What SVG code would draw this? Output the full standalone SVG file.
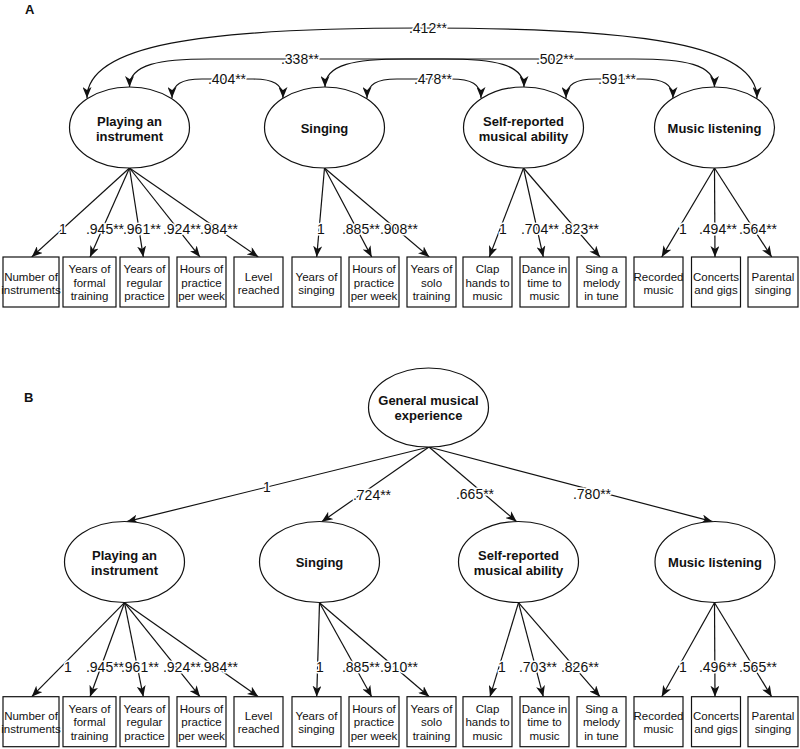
<svg xmlns="http://www.w3.org/2000/svg" width="800" height="749" viewBox="0 0 800 749">
<defs>
<style>
.bg{fill:#fff}
.ell{fill:#fff;stroke:#111;stroke-width:1.2}
.box{fill:#fff;stroke:#111;stroke-width:1.2}
.lat{font-family:"Liberation Sans",Arial,sans-serif;font-size:13px;font-weight:bold;fill:#111;text-anchor:middle}
.obs{font-family:"Liberation Sans",Arial,sans-serif;font-size:11.5px;fill:#111;text-anchor:middle}
.lbl{font-family:"Liberation Sans",Arial,sans-serif;font-size:14px;fill:#111;text-anchor:middle;stroke:#fff;stroke-width:3;paint-order:stroke;stroke-linejoin:round}
.pan{font-family:"Liberation Sans",Arial,sans-serif;font-size:13px;font-weight:bold;fill:#111}
.ln{fill:none;stroke:#111;stroke-width:1.2;marker-end:url(#ah)}
.cv{fill:none;stroke:#111;stroke-width:1.2;marker-end:url(#ah);marker-start:url(#ah)}
</style>
<marker id="ah" viewBox="0 0 11 9" markerWidth="11" markerHeight="9" refX="11" refY="4.5" orient="auto-start-reverse" markerUnits="userSpaceOnUse">
<path d="M0,0 L11,4.5 L0,9 L3,4.5 z" fill="#111"/>
</marker>
</defs>
<rect class="bg" x="0" y="0" width="800" height="749"/>
<text class="pan" x="25" y="14">A</text>
<text class="pan" x="24" y="402">B</text>

<g id="connectors">
<path class="cv" d="M87,98 C87,45 200,28 422,28 C644,28 757,45 757,98"/>
<path class="cv" d="M129.5,87 C129.5,64 160,59 210,59 L444,59 C494,59 524,64 524,87"/>
<path class="cv" d="M325,87 C325,64 355,59 405,59 L634,59 C684,59 714.5,64 714.5,87"/>
<path class="cv" d="M172,98 C172,84 182,79 202,79 L253,79 C273,79 283,84 283,98"/>
<path class="cv" d="M367,98 C367,84 377,79 397,79 L451,79 C471,79 481,84 481,98"/>
<path class="cv" d="M566,98 C566,84 576,79 596,79 L643,79 C663,79 673,84 673,98"/>
<path class="ln" d="M129.5,168 L31.7,257"/>
<path class="ln" d="M129.5,168 L90,257"/>
<path class="ln" d="M129.5,168 L143.3,257"/>
<path class="ln" d="M129.5,168 L200,257"/>
<path class="ln" d="M129.5,168 L258.3,257"/>
<path class="ln" d="M324.5,168 L316.7,257"/>
<path class="ln" d="M324.5,168 L371.7,257"/>
<path class="ln" d="M324.5,168 L429.3,257"/>
<path class="ln" d="M523.5,168 L489.3,257"/>
<path class="ln" d="M523.5,168 L543.3,257"/>
<path class="ln" d="M523.5,168 L600,257"/>
<path class="ln" d="M714.5,168 L661.7,257"/>
<path class="ln" d="M714.5,168 L715,257"/>
<path class="ln" d="M714.5,168 L771.7,257"/>
<path class="ln" d="M429,447 L126.7,521.7"/>
<path class="ln" d="M429,447 L321.7,521.7"/>
<path class="ln" d="M429,447 L516.7,521.7"/>
<path class="ln" d="M429,447 L712.7,521.7"/>
<path class="ln" d="M124.5,602.7 L31.7,696.7"/>
<path class="ln" d="M124.5,602.7 L90,696.7"/>
<path class="ln" d="M124.5,602.7 L143.3,696.7"/>
<path class="ln" d="M124.5,602.7 L200,696.7"/>
<path class="ln" d="M124.5,602.7 L258.3,696.7"/>
<path class="ln" d="M319.5,602.7 L316.7,696.7"/>
<path class="ln" d="M319.5,602.7 L371.7,696.7"/>
<path class="ln" d="M319.5,602.7 L429.3,696.7"/>
<path class="ln" d="M518.5,602.7 L490,696.7"/>
<path class="ln" d="M518.5,602.7 L543.3,696.7"/>
<path class="ln" d="M518.5,602.7 L600,696.7"/>
<path class="ln" d="M714.5,602.7 L661.7,696.7"/>
<path class="ln" d="M714.5,602.7 L715,696.7"/>
<path class="ln" d="M714.5,602.7 L771.7,696.7"/>

<text class="lbl" x="428" y="33">.412**</text>
<text class="lbl" x="300" y="64">.338**</text>
<text class="lbl" x="555" y="64">.502**</text>
<text class="lbl" x="227" y="84">.404**</text>
<text class="lbl" x="433" y="84">.478**</text>
<text class="lbl" x="617" y="84">.591**</text>
<text class="lbl" x="63" y="234">1</text>
<text class="lbl" x="105" y="234">.945**</text>
<text class="lbl" x="142" y="234">.961**</text>
<text class="lbl" x="182" y="234">.924**</text>
<text class="lbl" x="219" y="234">.984**</text>
<text class="lbl" x="321" y="234">1</text>
<text class="lbl" x="361" y="234">.885**</text>
<text class="lbl" x="399" y="234">.908**</text>
<text class="lbl" x="503" y="234">1</text>
<text class="lbl" x="540" y="234">.704**</text>
<text class="lbl" x="580" y="234">.823**</text>
<text class="lbl" x="683" y="234">1</text>
<text class="lbl" x="718" y="234">.494**</text>
<text class="lbl" x="758" y="234">.564**</text>
<text class="lbl" x="267" y="492">1</text>
<text class="lbl" x="372" y="500">.724**</text>
<text class="lbl" x="475" y="499">.665**</text>
<text class="lbl" x="592" y="499">.780**</text>
<text class="lbl" x="68" y="672">1</text>
<text class="lbl" x="105" y="672">.945**</text>
<text class="lbl" x="140" y="672">.961**</text>
<text class="lbl" x="182" y="672">.924**</text>
<text class="lbl" x="219" y="672">.984**</text>
<text class="lbl" x="320" y="672">1</text>
<text class="lbl" x="361" y="672">.885**</text>
<text class="lbl" x="399" y="672">.910**</text>
<text class="lbl" x="502" y="672">1</text>
<text class="lbl" x="538" y="672">.703**</text>
<text class="lbl" x="580" y="672">.826**</text>
<text class="lbl" x="683" y="672">1</text>
<text class="lbl" x="718" y="672">.496**</text>
<text class="lbl" x="758" y="672">.565**</text>
</g>

<g id="a-playing"><ellipse class="ell" cx="129.5" cy="127.5" rx="60" ry="40.5"/><text class="lat" x="129.5" y="125.5">Playing an</text><text class="lat" x="129.5" y="140.5">instrument</text></g>
<g id="a-singing"><ellipse class="ell" cx="324.5" cy="127.5" rx="60" ry="40.5"/><text class="lat" x="324.5" y="132.5">Singing</text></g>
<g id="a-selfreport"><ellipse class="ell" cx="523.5" cy="127.5" rx="60" ry="40.5"/><text class="lat" x="523.5" y="125.5">Self-reported</text><text class="lat" x="523.5" y="140.5">musical ability</text></g>
<g id="a-listening"><ellipse class="ell" cx="714.5" cy="127.5" rx="60" ry="40.5"/><text class="lat" x="714.5" y="132.5">Music listening</text></g>

<g id="a-b0"><rect class="box" x="3" y="257" width="56" height="50"/><text class="obs" x="31" y="280.5">Number of</text><text class="obs" x="31" y="293.5">instruments</text></g>
<g id="a-b1"><rect class="box" x="63" y="257" width="53" height="50"/><text class="obs" x="89.5" y="273">Years of</text><text class="obs" x="89.5" y="286.5">formal</text><text class="obs" x="89.5" y="300">training</text></g>
<g id="a-b2"><rect class="box" x="120" y="257" width="49" height="50"/><text class="obs" x="144.5" y="273">Years of</text><text class="obs" x="144.5" y="286.5">regular</text><text class="obs" x="144.5" y="300">practice</text></g>
<g id="a-b3"><rect class="box" x="177" y="257" width="49" height="50"/><text class="obs" x="201.5" y="273">Hours of</text><text class="obs" x="201.5" y="286.5">practice</text><text class="obs" x="201.5" y="300">per week</text></g>
<g id="a-b4"><rect class="box" x="234" y="257" width="49" height="50"/><text class="obs" x="258.5" y="280.5">Level</text><text class="obs" x="258.5" y="293.5">reached</text></g>
<g id="a-b5"><rect class="box" x="292" y="257" width="49" height="50"/><text class="obs" x="316.5" y="280.5">Years of</text><text class="obs" x="316.5" y="293.5">singing</text></g>
<g id="a-b6"><rect class="box" x="349" y="257" width="50" height="50"/><text class="obs" x="374" y="273">Hours of</text><text class="obs" x="374" y="286.5">practice</text><text class="obs" x="374" y="300">per week</text></g>
<g id="a-b7"><rect class="box" x="407" y="257" width="49" height="50"/><text class="obs" x="431.5" y="273">Years of</text><text class="obs" x="431.5" y="286.5">solo</text><text class="obs" x="431.5" y="300">training</text></g>
<g id="a-b8"><rect class="box" x="463" y="257" width="49" height="50"/><text class="obs" x="487.5" y="273">Clap</text><text class="obs" x="487.5" y="286.5">hands to</text><text class="obs" x="487.5" y="300">music</text></g>
<g id="a-b9"><rect class="box" x="520" y="257" width="49" height="50"/><text class="obs" x="544.5" y="273">Dance in</text><text class="obs" x="544.5" y="286.5">time to</text><text class="obs" x="544.5" y="300">music</text></g>
<g id="a-b10"><rect class="box" x="577" y="257" width="49" height="50"/><text class="obs" x="601.5" y="273">Sing a</text><text class="obs" x="601.5" y="286.5">melody</text><text class="obs" x="601.5" y="300">in tune</text></g>
<g id="a-b11"><rect class="box" x="634" y="257" width="49" height="50"/><text class="obs" x="658.5" y="280.5">Recorded</text><text class="obs" x="658.5" y="293.5">music</text></g>
<g id="a-b12"><rect class="box" x="691.5" y="257" width="49" height="50"/><text class="obs" x="716" y="280.5">Concerts</text><text class="obs" x="716" y="293.5">and gigs</text></g>
<g id="a-b13"><rect class="box" x="748" y="257" width="50" height="50"/><text class="obs" x="773" y="280.5">Parental</text><text class="obs" x="773" y="293.5">singing</text></g>

<g id="b-general"><ellipse class="ell" cx="428.5" cy="407.5" rx="60" ry="39.5"/><text class="lat" x="428.5" y="405">General musical</text><text class="lat" x="428.5" y="420">experience</text></g>
<g id="b-playing"><ellipse class="ell" cx="124.5" cy="562" rx="60" ry="40.5"/><text class="lat" x="124.5" y="560">Playing an</text><text class="lat" x="124.5" y="575">instrument</text></g>
<g id="b-singing"><ellipse class="ell" cx="319.5" cy="562" rx="60" ry="40.5"/><text class="lat" x="319.5" y="567">Singing</text></g>
<g id="b-selfreport"><ellipse class="ell" cx="518.5" cy="562" rx="60" ry="40.5"/><text class="lat" x="518.5" y="560">Self-reported</text><text class="lat" x="518.5" y="575">musical ability</text></g>
<g id="b-listening"><ellipse class="ell" cx="715" cy="562" rx="60" ry="40.5"/><text class="lat" x="715" y="567">Music listening</text></g>

<g id="b-b0"><rect class="box" x="3" y="696.7" width="56" height="50"/><text class="obs" x="31" y="720">Number of</text><text class="obs" x="31" y="733">instruments</text></g>
<g id="b-b1"><rect class="box" x="63" y="696.7" width="53" height="50"/><text class="obs" x="89.5" y="712.5">Years of</text><text class="obs" x="89.5" y="726">formal</text><text class="obs" x="89.5" y="739.5">training</text></g>
<g id="b-b2"><rect class="box" x="120" y="696.7" width="49" height="50"/><text class="obs" x="144.5" y="712.5">Years of</text><text class="obs" x="144.5" y="726">regular</text><text class="obs" x="144.5" y="739.5">practice</text></g>
<g id="b-b3"><rect class="box" x="177" y="696.7" width="49" height="50"/><text class="obs" x="201.5" y="712.5">Hours of</text><text class="obs" x="201.5" y="726">practice</text><text class="obs" x="201.5" y="739.5">per week</text></g>
<g id="b-b4"><rect class="box" x="234" y="696.7" width="49" height="50"/><text class="obs" x="258.5" y="720">Level</text><text class="obs" x="258.5" y="733">reached</text></g>
<g id="b-b5"><rect class="box" x="292" y="696.7" width="49" height="50"/><text class="obs" x="316.5" y="720">Years of</text><text class="obs" x="316.5" y="733">singing</text></g>
<g id="b-b6"><rect class="box" x="349" y="696.7" width="50" height="50"/><text class="obs" x="374" y="712.5">Hours of</text><text class="obs" x="374" y="726">practice</text><text class="obs" x="374" y="739.5">per week</text></g>
<g id="b-b7"><rect class="box" x="407" y="696.7" width="49" height="50"/><text class="obs" x="431.5" y="712.5">Years of</text><text class="obs" x="431.5" y="726">solo</text><text class="obs" x="431.5" y="739.5">training</text></g>
<g id="b-b8"><rect class="box" x="463" y="696.7" width="49" height="50"/><text class="obs" x="487.5" y="712.5">Clap</text><text class="obs" x="487.5" y="726">hands to</text><text class="obs" x="487.5" y="739.5">music</text></g>
<g id="b-b9"><rect class="box" x="520" y="696.7" width="49" height="50"/><text class="obs" x="544.5" y="712.5">Dance in</text><text class="obs" x="544.5" y="726">time to</text><text class="obs" x="544.5" y="739.5">music</text></g>
<g id="b-b10"><rect class="box" x="577" y="696.7" width="49" height="50"/><text class="obs" x="601.5" y="712.5">Sing a</text><text class="obs" x="601.5" y="726">melody</text><text class="obs" x="601.5" y="739.5">in tune</text></g>
<g id="b-b11"><rect class="box" x="634" y="696.7" width="49" height="50"/><text class="obs" x="658.5" y="720">Recorded</text><text class="obs" x="658.5" y="733">music</text></g>
<g id="b-b12"><rect class="box" x="691.5" y="696.7" width="49" height="50"/><text class="obs" x="716" y="720">Concerts</text><text class="obs" x="716" y="733">and gigs</text></g>
<g id="b-b13"><rect class="box" x="748" y="696.7" width="50" height="50"/><text class="obs" x="773" y="720">Parental</text><text class="obs" x="773" y="733">singing</text></g>
</svg>
